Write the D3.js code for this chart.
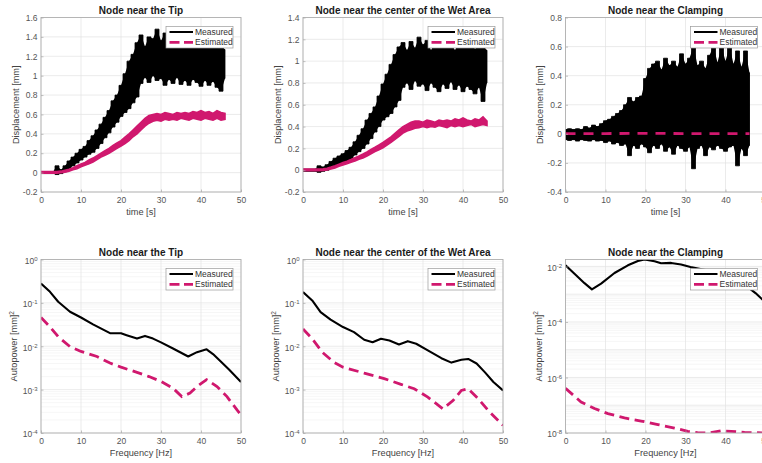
<!DOCTYPE html>
<html>
<head>
<meta charset="utf-8">
<script src="https://cdn.jsdelivr.net/npm/d3@7/dist/d3.min.js"></script>
<style>
  body { margin: 0; background: #ffffff; }
  svg text { font-family: "Liberation Sans", Arial, sans-serif; }
</style>
</head>
<body>
<svg id="canvas"></svg>
<script>
// ---- data ----
const timeSec = [0,1,2,3,4,5,6,7,8,9,10,11,12,13,14,15,16,17,18,19,20,21,22,23,24,25,26,27,28,29,30,31,32,33,34,35,36,37,38,39,40,41,42,43,44,45,46];

// node near the tip (displacement, mm) - upper / lower envelope of the noisy trace
const tipMeasHi = [0.01,0.01,0.01,0.01,0.07,0.03,0.07,0.12,0.16,0.20,0.24,0.27,0.33,0.38,0.44,0.50,0.57,0.64,0.74,0.80,0.90,1.02,1.15,1.22,1.34,1.42,1.30,1.40,1.38,1.48,1.36,1.44,1.30,1.38,1.32,1.40,1.33,1.30,1.37,1.31,1.36,1.29,1.34,1.28,1.36,1.31,1.27];
const tipMeasLo = [-0.01,-0.01,-0.01,-0.01,-0.02,-0.01,0.01,0.04,0.07,0.10,0.13,0.16,0.19,0.21,0.25,0.30,0.36,0.41,0.47,0.52,0.58,0.62,0.66,0.72,0.78,0.92,0.98,0.93,1.00,0.95,0.97,0.90,0.96,0.92,0.98,0.91,0.95,0.90,0.96,0.93,0.89,0.95,0.90,0.94,0.88,0.84,0.97];
const tipEstHi = [0.01,0.01,0.01,0.01,0.01,0.015,0.025,0.035,0.05,0.07,0.09,0.105,0.13,0.15,0.175,0.2,0.225,0.25,0.28,0.305,0.33,0.365,0.40,0.44,0.48,0.52,0.56,0.59,0.60,0.61,0.60,0.62,0.61,0.60,0.62,0.61,0.62,0.61,0.63,0.62,0.64,0.62,0.63,0.61,0.64,0.62,0.61];
const tipEstLo = [-0.005,-0.005,-0.005,-0.005,-0.005,0,0.005,0.015,0.03,0.04,0.06,0.075,0.09,0.11,0.135,0.16,0.18,0.2,0.225,0.25,0.275,0.30,0.33,0.37,0.40,0.44,0.48,0.51,0.53,0.54,0.53,0.55,0.54,0.55,0.54,0.56,0.55,0.54,0.56,0.55,0.54,0.56,0.55,0.54,0.56,0.54,0.55];

// node near the center of the wet area
const wetMeasHi = [0.01,0.01,0.01,0.01,0.04,0.03,0.05,0.08,0.11,0.13,0.15,0.18,0.21,0.26,0.32,0.38,0.46,0.52,0.58,0.68,0.79,0.88,0.97,1.06,1.13,1.17,1.10,1.18,1.12,1.22,1.15,1.19,1.10,1.17,1.13,1.20,1.12,1.16,1.10,1.18,1.14,1.12,1.19,1.11,1.16,1.13,1.10];
const wetMeasLo = [-0.01,-0.01,-0.01,-0.01,-0.02,-0.01,0,0.02,0.03,0.05,0.06,0.08,0.105,0.14,0.17,0.2,0.24,0.29,0.35,0.40,0.46,0.49,0.52,0.58,0.64,0.76,0.80,0.74,0.82,0.77,0.79,0.73,0.80,0.76,0.72,0.79,0.75,0.81,0.74,0.78,0.72,0.77,0.74,0.70,0.76,0.63,0.80];
const wetEstHi = [0.01,0.01,0.01,0.01,0.01,0.012,0.018,0.028,0.04,0.055,0.07,0.082,0.098,0.115,0.13,0.148,0.168,0.19,0.21,0.232,0.255,0.28,0.305,0.338,0.37,0.40,0.42,0.44,0.45,0.45,0.44,0.46,0.45,0.44,0.46,0.45,0.46,0.45,0.47,0.46,0.48,0.46,0.45,0.47,0.46,0.49,0.45];
const wetEstLo = [-0.005,-0.005,-0.005,-0.005,-0.005,-0.002,0.003,0.012,0.02,0.035,0.048,0.058,0.072,0.085,0.1,0.112,0.13,0.15,0.17,0.188,0.205,0.23,0.255,0.282,0.31,0.34,0.36,0.37,0.385,0.39,0.40,0.39,0.40,0.395,0.41,0.40,0.39,0.41,0.40,0.41,0.40,0.41,0.42,0.40,0.41,0.42,0.41];

// node near the clamping
const clampMeasHi = [0.03,0.035,0.03,0.035,0.03,0.05,0.04,0.06,0.05,0.07,0.09,0.1,0.12,0.14,0.16,0.2,0.25,0.22,0.25,0.26,0.38,0.45,0.48,0.50,0.44,0.52,0.47,0.50,0.46,0.55,0.48,0.52,0.60,0.47,0.50,0.45,0.54,0.60,0.49,0.60,0.50,0.60,0.48,0.57,0.46,0.57,0.42];
const clampMeasLo = [-0.04,-0.045,-0.04,-0.05,-0.04,-0.045,-0.05,-0.04,-0.05,-0.045,-0.06,-0.05,-0.07,-0.06,-0.08,-0.07,-0.15,-0.08,-0.10,-0.07,-0.09,-0.13,-0.08,-0.10,-0.07,-0.12,-0.09,-0.14,-0.08,-0.10,-0.12,-0.09,-0.24,-0.10,-0.08,-0.15,-0.09,-0.11,-0.08,-0.10,-0.12,-0.09,-0.08,-0.22,-0.10,-0.15,-0.08];
const clampEstTime = [0,10,20,30,40,46];
const clampEstVal = [0.002,0.002,0.003,0.002,0.002,0.002];

// autopower spectra (mm^2)
const tipPsdMeasFreq = [0,2.25,4.3,7.25,10,13,17.25,20,21.4,24,26,28,30,33,36.8,39,41.4,43,45,47,50];
const tipPsdMeasVal = [0.28,0.18,0.106,0.0625,0.046,0.032,0.020,0.020,0.018,0.015,0.0173,0.015,0.0123,0.0089,0.0058,0.0073,0.0085,0.0066,0.0044,0.0029,0.0015];
const tipPsdEstFreq = [0,2.25,4.3,7.25,10,14,17.25,20,24,27,30,33,35.2,37.25,39,41.4,44,46.5,49,50];
const tipPsdEstVal = [0.046,0.028,0.0166,0.0098,0.0076,0.0058,0.0041,0.0033,0.0025,0.0020,0.00154,0.00108,0.00069,0.00083,0.00118,0.0017,0.00118,0.00069,0.00034,0.00026];

const wetPsdMeasFreq = [0,2.3,4.4,6.9,10,12.75,15.3,17.4,19.5,21.6,24,26.2,28.3,31.2,34.6,37.1,39.6,41.3,43.4,45.5,47.6,50];
const wetPsdMeasVal = [0.177,0.114,0.061,0.041,0.0277,0.0212,0.0141,0.0124,0.0149,0.0136,0.0110,0.0131,0.0114,0.0080,0.0053,0.0042,0.0049,0.0051,0.0040,0.0025,0.0015,0.00096];
const wetPsdEstFreq = [0,2.3,4.8,7.7,10,15.3,20.3,24.5,27.8,31.2,35,37.5,39.6,41.3,43.8,46.3,50];
const wetPsdEstVal = [0.025,0.0149,0.0073,0.0043,0.0033,0.0024,0.0018,0.00132,0.00105,0.00067,0.00036,0.00056,0.00096,0.00105,0.00062,0.00033,0.00015];

const clampPsdMeasFreq = [0,2.25,4.75,6.6,8.9,12.25,15.6,18.1,19.75,22.25,23.9,26.4,28.9,31.25,35,38,41,44,45.6,47.5,49.1,50];
const clampPsdMeasVal = [0.011,0.0055,0.0025,0.0015,0.0024,0.0058,0.011,0.0158,0.0178,0.0154,0.013,0.0134,0.0117,0.0096,0.0075,0.0055,0.0038,0.0026,0.0018,0.0011,0.00067,0.0005];
const clampPsdEstFreq = [0,3.9,7.25,10.6,14.75,18.9,23.1,27.25,30.6,33,35.6,38.9,41.4,44.75,50];
const clampPsdEstVal = [4.1e-7,1.3e-7,7.6e-8,5.0e-8,3.5e-8,2.7e-8,2.0e-8,1.5e-8,1.15e-8,1.03e-8,1.0e-8,1.2e-8,1.15e-8,1.05e-8,1.0e-8];

// ticks
const timeTicks = [0,10,20,30,40,50];
const freqTicks = [0,10,20,30,40,50];
const tipDispTicks = [-0.2,0,0.2,0.4,0.6,0.8,1,1.2,1.4,1.6];
const wetDispTicks = [-0.2,0,0.2,0.4,0.6,0.8,1,1.2,1.4];
const clampDispTicks = [-0.4,-0.2,0,0.2,0.4,0.6,0.8];
const psdExpTicks = [-4,-3,-2,-1,0];
const clampPsdExpTicks = [-8,-6,-4,-2];

const legendNames = ["Measured", "Estimated"];

// ---- look ----
var colorMeasured = "#000000";
var colorEstimated = "#d0186e";
var colorGrid = "#e2e2e2";
var colorMinorGrid = "#f0f0f0";
var colorBox = "#a9a9a9";
var colorTick = "#555555";

const W = 762, H = 463;
const PW = 200;
const svg = d3.select('svg#canvas')
    .attr('width', W)
    .attr('height', H);

svg.append('rect').attr('width', W).attr('height', H).attr('fill', '#fff');

let clipCount = 0;

function makeClip(x0, y0, w, h) {
    clipCount++;
    const id = 'clip' + clipCount;
    svg.append('clipPath').attr('id', id)
        .append('rect').attr('x', x0).attr('y', y0).attr('width', w).attr('height', h);
    return 'url(#' + id + ')';
}

function drawFrame(g, left, top, ph, title) {
    g.append('rect')
        .attr('x', left).attr('y', top)
        .attr('width', PW).attr('height', ph)
        .attr('fill', 'none')
        .attr('stroke', colorBox)
        .attr('stroke-width', 0.8);
    g.append('text')
        .attr('x', left + PW / 2).attr('y', top - 3.5)
        .attr('text-anchor', 'middle')
        .attr('font-size', '10px')
        .attr('font-weight', 'bold')
        .attr('fill', '#1a1a1a')
        .text(title);
}

function styleAxis(ax) {
    ax.select('.domain').remove();
    ax.selectAll('.tick line').attr('stroke', colorBox).attr('stroke-width', 0.7);
    ax.selectAll('.tick text')
        .attr('fill', colorTick)
        .attr('font-size', '8.5px')
        .attr('font-family', '"Liberation Sans", Arial, sans-serif');
}

function drawLegend(g, right, top) {
    const lw = 67, lh = 21.5;
    const lx = right - lw - 8, ly = top + 9;
    g.append('rect')
        .attr('x', lx).attr('y', ly).attr('width', lw).attr('height', lh)
        .attr('fill', '#fff').attr('stroke', '#9a9a9a').attr('stroke-width', 0.7);
    legendNames.forEach(function (name, i) {
        const yy = ly + 5.5 + i * 10.3;
        g.append('line')
            .attr('x1', lx + 3.5).attr('x2', lx + 27)
            .attr('y1', yy).attr('y2', yy)
            .attr('stroke', i == 0 ? colorMeasured : colorEstimated)
            .attr('stroke-width', i == 0 ? 2 : 2.8)
            .attr('stroke-dasharray', i == 0 ? null : '10,4.5');
        g.append('text')
            .attr('x', lx + 29).attr('y', yy + 3)
            .attr('font-size', '8.5px')
            .attr('fill', '#333')
            .text(name);
    });
}

function timePanel(opt) {
    const top = 17.5, ph = 174.5;
    const g = svg.append('g');
    const x = d3.scaleLinear().domain([0, 50]).range([opt.left, opt.left + PW]);
    const y = d3.scaleLinear().domain(opt.yDomain).range([top + ph, top]);

    // grid
    g.selectAll('line.vgrid').data(timeTicks).enter().append('line')
        .attr('x1', d => x(d)).attr('x2', d => x(d))
        .attr('y1', top).attr('y2', top + ph)
        .attr('stroke', colorGrid).attr('stroke-width', 0.7);
    g.selectAll('line.hgrid').data(opt.yTicks).enter().append('line')
        .attr('x1', opt.left).attr('x2', opt.left + PW)
        .attr('y1', d => y(d)).attr('y2', d => y(d))
        .attr('stroke', colorGrid).attr('stroke-width', 0.7);

    const clip = makeClip(opt.left, top, PW, ph);
    const dg = g.append('g').attr('clip-path', clip);

    // measured: envelope filled, jagged edges as in the noisy record
    const band = d3.area()
        .curve(d3.curveStep)
        .x((d, i) => x(timeSec[i]))
        .y0((d, i) => y(opt.measLo[i]))
        .y1((d, i) => y(opt.measHi[i]));
    dg.append('path')
        .datum(opt.measHi)
        .attr('d', band)
        .attr('fill', colorMeasured)
        .attr('stroke', colorMeasured)
        .attr('stroke-width', 0.8);
    const core = d3.area()
        .x((d, i) => x(timeSec[i]))
        .y0((d, i) => y(opt.measLo[i]))
        .y1((d, i) => y(opt.measHi[i]));
    dg.append('path')
        .datum(opt.measHi)
        .attr('d', core)
        .attr('fill', colorMeasured);

    if (opt.estHi) {
        const eband = d3.area()
            .x((d, i) => x(timeSec[i]))
            .y0((d, i) => y(opt.estLo[i]))
            .y1((d, i) => y(opt.estHi[i]));
        dg.append('path')
            .datum(opt.estHi)
            .attr('d', eband)
            .attr('fill', colorEstimated)
            .attr('stroke', colorEstimated)
            .attr('stroke-width', 1.6);
    } else {
        dg.append('path')
            .datum(clampEstVal)
            .attr('d', d3.line().x((d, i) => x(clampEstTime[i])).y(d => y(d)))
            .attr('fill', 'none')
            .attr('stroke', colorEstimated)
            .attr('stroke-width', 2.8)
            .attr('stroke-dasharray', '10,8');
    }

    // axes
    const ax = g.append('g').attr('transform', 'translate(0,' + (top + ph) + ')')
        .call(d3.axisBottom(x).tickValues(timeTicks).tickSizeInner(-2.5).tickSizeOuter(0).tickPadding(4.5).tickFormat(d3.format('d')));
    styleAxis(ax);
    const ay = g.append('g').attr('transform', 'translate(' + opt.left + ',0)')
        .call(d3.axisLeft(y).tickValues(opt.yTicks).tickSizeInner(-2.5).tickSizeOuter(0).tickPadding(3.5)
            .tickFormat(d => String(+d.toFixed(1))));
    styleAxis(ay);

    drawFrame(g, opt.left, top, ph, opt.title);

    g.append('text')
        .attr('x', opt.left + PW / 2).attr('y', 215)
        .attr('text-anchor', 'middle')
        .attr('font-size', '9.2px').attr('fill', '#444')
        .text('time [s]');
    g.append('text')
        .attr('transform', 'translate(' + (opt.left - 22.5) + ',' + (top + ph / 2) + ') rotate(-90)')
        .attr('text-anchor', 'middle')
        .attr('font-size', '9.2px').attr('fill', '#444')
        .text('Displacement [mm]');

    drawLegend(g, opt.left + PW, top);
}

function psdPanel(opt) {
    const top = 259.5, ph = 173.5;
    const g = svg.append('g');
    const x = d3.scaleLinear().domain([0, 50]).range([opt.left, opt.left + PW]);
    const y = d3.scaleLog().domain(opt.yDomain).range([top + ph, top]);

    // minor grid
    let minor = [];
    const e0 = Math.floor(Math.log10(opt.yDomain[0])), e1 = Math.ceil(Math.log10(opt.yDomain[1]));
    for (let e = e0; e < e1; e++) {
        for (let m = 2; m <= 9; m++) {
            const v = m * Math.pow(10, e);
            if (v > opt.yDomain[0] && v < opt.yDomain[1]) minor.push(v);
        }
    }
    g.selectAll('line.mgrid').data(minor).enter().append('line')
        .attr('x1', opt.left).attr('x2', opt.left + PW)
        .attr('y1', d => y(d)).attr('y2', d => y(d))
        .attr('stroke', colorMinorGrid).attr('stroke-width', 0.6);

    const majors = [];
    for (let e = e0; e <= e1; e++) {
        const v = Math.pow(10, e);
        if (v >= opt.yDomain[0] * 0.999 && v <= opt.yDomain[1] * 1.001) majors.push(v);
    }
    g.selectAll('line.hgrid').data(majors).enter().append('line')
        .attr('x1', opt.left).attr('x2', opt.left + PW)
        .attr('y1', d => y(d)).attr('y2', d => y(d))
        .attr('stroke', colorGrid).attr('stroke-width', 0.7);
    g.selectAll('line.vgrid').data(freqTicks).enter().append('line')
        .attr('x1', d => x(d)).attr('x2', d => x(d))
        .attr('y1', top).attr('y2', top + ph)
        .attr('stroke', colorGrid).attr('stroke-width', 0.7);

    const clip = makeClip(opt.left, top, PW, ph);
    const dg = g.append('g').attr('clip-path', clip);

    dg.append('path')
        .datum(opt.measVal)
        .attr('d', d3.line().x((d, i) => x(opt.measFreq[i])).y(d => y(d)))
        .attr('fill', 'none')
        .attr('stroke', colorMeasured)
        .attr('stroke-width', 2.1)
        .attr('stroke-linejoin', 'round');
    dg.append('path')
        .datum(opt.estVal)
        .attr('d', d3.line().x((d, i) => x(opt.estFreq[i])).y(d => y(d)))
        .attr('fill', 'none')
        .attr('stroke', colorEstimated)
        .attr('stroke-width', 2.8)
        .attr('stroke-dasharray', '10,5.5');

    const ax = g.append('g').attr('transform', 'translate(0,' + (top + ph) + ')')
        .call(d3.axisBottom(x).tickValues(freqTicks).tickSizeInner(-2.5).tickSizeOuter(0).tickPadding(4.5).tickFormat(d3.format('d')));
    styleAxis(ax);

    const ay = g.append('g').attr('transform', 'translate(' + opt.left + ',0)')
        .call(d3.axisLeft(y).tickValues(opt.expTicks.map(e => Math.pow(10, e))).tickSizeInner(-2.5).tickSizeOuter(0).tickPadding(3.5));
    styleAxis(ay);
    ay.selectAll('.tick text').each(function (d) {
        const t = d3.select(this);
        const ex = Math.round(Math.log10(d));
        t.text(null).attr('dy', '0.45em');
        t.append('tspan').text('10');
        t.append('tspan').attr('dy', '-0.5em').attr('font-size', '6px').text(ex);
    });

    drawFrame(g, opt.left, top, ph, opt.title);

    g.append('text')
        .attr('x', opt.left + PW / 2).attr('y', 456)
        .attr('text-anchor', 'middle')
        .attr('font-size', '9.2px').attr('fill', '#444')
        .text('Frequency [Hz]');
    const yl = g.append('text')
        .attr('transform', 'translate(' + (opt.left - 24) + ',' + (top + ph / 2) + ') rotate(-90)')
        .attr('text-anchor', 'middle')
        .attr('font-size', '9.2px').attr('fill', '#444');
    yl.append('tspan').text('Autopower [mm]');
    yl.append('tspan').attr('dy', '-0.5em').attr('font-size', '6.5px').text('2');

    drawLegend(g, opt.left + PW, top);
}

timePanel({ left: 41, yDomain: [-0.2, 1.6], yTicks: tipDispTicks, title: 'Node near the Tip',
    measHi: tipMeasHi, measLo: tipMeasLo, estHi: tipEstHi, estLo: tipEstLo });
timePanel({ left: 303, yDomain: [-0.2, 1.4], yTicks: wetDispTicks, title: 'Node near the center of the Wet Area',
    measHi: wetMeasHi, measLo: wetMeasLo, estHi: wetEstHi, estLo: wetEstLo });
timePanel({ left: 565.5, yDomain: [-0.4, 0.8], yTicks: clampDispTicks, title: 'Node near the Clamping',
    measHi: clampMeasHi, measLo: clampMeasLo });

psdPanel({ left: 41, yDomain: [1e-4, 1], expTicks: psdExpTicks, title: 'Node near the Tip',
    measFreq: tipPsdMeasFreq, measVal: tipPsdMeasVal, estFreq: tipPsdEstFreq, estVal: tipPsdEstVal });
psdPanel({ left: 303, yDomain: [1e-4, 1], expTicks: psdExpTicks, title: 'Node near the center of the Wet Area',
    measFreq: wetPsdMeasFreq, measVal: wetPsdMeasVal, estFreq: wetPsdEstFreq, estVal: wetPsdEstVal });
psdPanel({ left: 565.5, yDomain: [1e-8, 0.0178], expTicks: clampPsdExpTicks, title: 'Node near the Clamping',
    measFreq: clampPsdMeasFreq, measVal: clampPsdMeasVal, estFreq: clampPsdEstFreq, estVal: clampPsdEstVal });
</script>
</body>
</html>
